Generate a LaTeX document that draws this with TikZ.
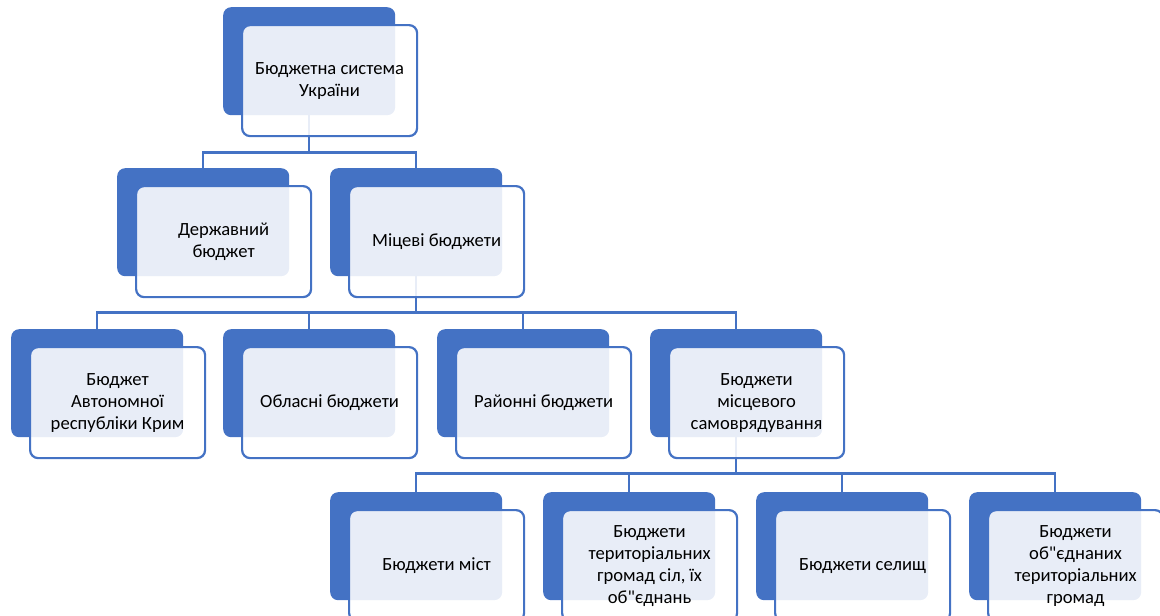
\documentclass[tikz,border=0pt]{standalone}
\usepackage{fontspec}
\setmainfont{Carlito}[Ligatures=TeXOff]
\usepackage{tikz}
\usetikzlibrary{positioning,calc}
\definecolor{boxblue}{HTML}{4472C4}

\begin{document}
\begin{tikzpicture}[x=1pt, y=-1pt,
    backbox/.style={fill=boxblue, rounded corners=8pt, inner sep=0pt,
        minimum width=172pt, minimum height=108pt, anchor=north west},
    frontbox/.style={draw=boxblue, line width=2.2pt, fill=white, fill opacity=0.88,
        text opacity=1, text=black, rounded corners=8pt, inner sep=2pt,
        minimum width=175pt, minimum height=111pt, anchor=north west,
        align=center, font=\fontsize{18.6}{22}\selectfont},
    link/.style={draw=boxblue, line width=2.2pt}]
    \useasboundingbox (0,0) rectangle (1160,616);
    \clip (0,0) rectangle (1160,616);

    % Blue back plates
    \foreach \n/\x/\y in {sys/223/7, st/117/168, loc/330/168,
            ark/11/329, obl/223/329, ray/437/329, ms/650/329,
            mist/330/492, sil/543/492, sel/756/492, otg/969/492}
        \node[backbox] (\n-b) at (\x,\y) {};

    % Tree connectors
    \foreach \p/\c/\h in {sys/st/37, sys/loc/37,
            loc/ark/36, loc/obl/36, loc/ray/36, loc/ms/36,
            ms/mist/36, ms/sil/36, ms/sel/36, ms/otg/36}
        \draw[link] (\p-b.south) -- ++(0,\h) -| (\c-b.north);

    % Text cards
    \foreach \n/\txt in {sys/{Бюджетна система\\України},
            st/{Державний\\бюджет},
            loc/{Міцеві бюджети},
            ark/{Бюджет\\Автономної\\республіки Крим},
            obl/{Обласні бюджети},
            ray/{Районні бюджети},
            ms/{Бюджети\\місцевого\\самоврядування},
            mist/{Бюджети міст},
            sil/{Бюджети\\територіальних\\громад сіл, їх\\об"єднань},
            sel/{Бюджети селищ},
            otg/{Бюджети\\об"єднаних\\територіальних\\громад}}
        \node[frontbox] (\n) at ([shift={(18,17)}]\n-b.north west) {\txt};
\end{tikzpicture}
\end{document}
